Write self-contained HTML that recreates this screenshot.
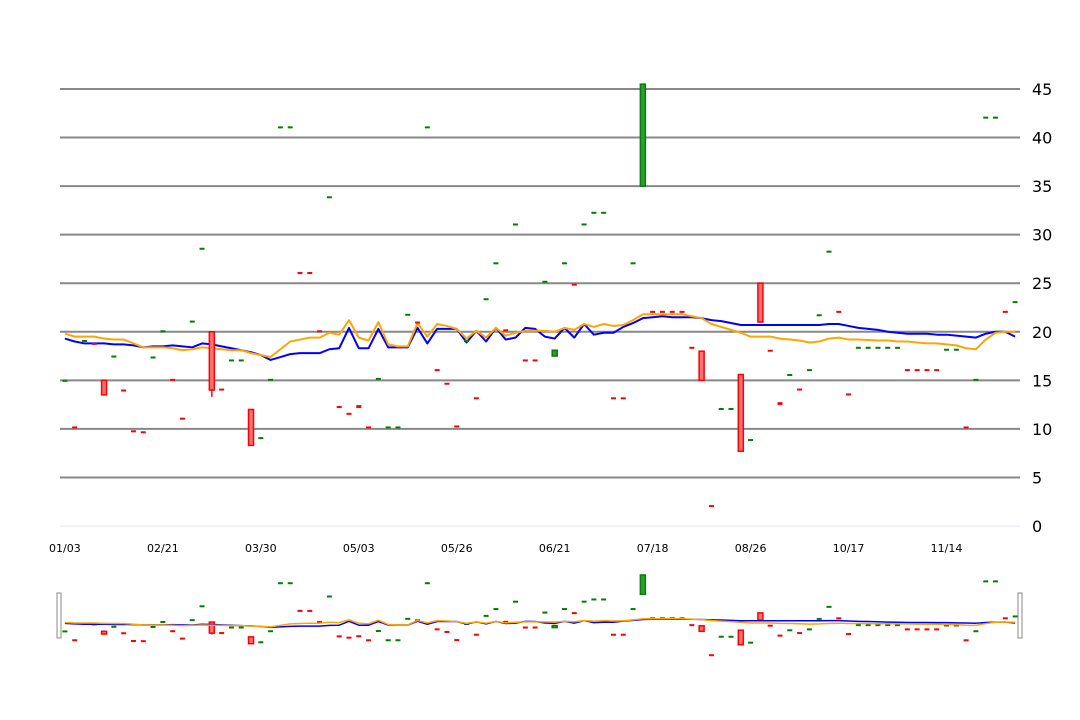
<!DOCTYPE html>
<html><head><meta charset="utf-8"><style>
html,body{margin:0;padding:0;background:#fff;width:1080px;height:720px;overflow:hidden}
svg text{font-family:"DejaVu Sans","Liberation Sans",sans-serif}
</style></head><body>
<svg id="chart" width="1080" height="720" xmlns="http://www.w3.org/2000/svg">
<g id="grid"></g>
<g id="yaxis"></g>
<g id="xaxis"></g>
<g id="lines"></g>
<g id="candles"></g>
<g id="nav"></g>
</svg>
<script>
const tickLabels = ["01/03","02/21","03/30","05/03","05/26","06/21","07/18","08/26","10/17","11/14"];
const tickEvery = 10;
const yTicks = [0,5,10,15,20,25,30,35,40,45];
const opens = [14.85,10.15,18.95,18.75,15,17.35,13.95,9.75,9.65,17.25,19.95,15.05,11.05,20.95,28.45,20,14.05,16.95,16.95,12,8.95,14.95,40.95,40.95,26.05,26.05,20.05,33.75,12.25,11.55,12.35,10.15,15.05,10.05,10.05,21.65,20.95,40.95,16.05,14.65,10.25,18.95,13.15,23.25,26.95,20.15,30.95,17.05,17.05,25.05,17.5,26.95,24.85,30.95,32.15,32.15,13.15,13.15,26.95,35,22.05,22.05,22.05,22.05,18.35,18,2.05,11.95,11.95,15.6,8.75,25,18.05,12.65,15.45,14.05,15.95,21.5,28.15,22.05,13.55,18.25,18.25,18.25,18.25,18.25,16.05,16.05,16.05,16.05,18.05,18.05,10.15,14.95,41.95,41.95,22.05,22.95];
const closes = [14.95,10.05,19.05,18.65,13.5,17.45,13.85,9.65,9.55,17.35,20.05,14.95,10.95,21.05,28.55,14,13.95,17.05,17.05,8.3,9.05,15.05,41.05,41.05,25.95,25.95,19.95,33.85,12.15,11.45,12.05,10.05,15.15,10.15,10.15,21.75,20.85,41.05,15.95,14.55,10.15,19.05,13.05,23.35,27.05,20.05,31.05,16.95,16.95,25.15,18.1,27.05,24.75,31.05,32.25,32.25,13.05,13.05,27.05,45.5,21.95,21.95,21.95,21.95,18.25,15,1.95,12.05,12.05,7.7,8.85,21,17.95,12.35,15.55,13.95,16.05,21.7,28.25,21.95,13.45,18.35,18.35,18.35,18.35,18.35,15.95,15.95,15.95,15.95,18.15,18.15,10.05,15.05,42.05,42.05,21.95,23.05];
const lowOverride = {15:13.3};
const blueLine = [19.3,19.0,18.8,18.8,18.8,18.7,18.7,18.6,18.4,18.5,18.5,18.6,18.5,18.4,18.8,18.7,18.5,18.3,18.1,17.9,17.6,17.1,17.4,17.7,17.8,17.8,17.8,18.2,18.3,20.4,18.3,18.3,20.3,18.4,18.4,18.4,20.4,18.8,20.3,20.3,20.3,18.9,20.1,19.0,20.4,19.2,19.4,20.4,20.3,19.5,19.3,20.4,19.4,20.8,19.7,19.9,19.9,20.5,20.9,21.4,21.5,21.6,21.5,21.5,21.5,21.4,21.2,21.1,20.9,20.7,20.7,20.7,20.7,20.7,20.7,20.7,20.7,20.7,20.8,20.8,20.6,20.4,20.3,20.2,20.0,19.9,19.8,19.8,19.8,19.7,19.7,19.6,19.5,19.4,19.8,20.0,20.0,19.5];
const orangeLine = [19.8,19.5,19.5,19.5,19.3,19.2,19.2,18.8,18.4,18.4,18.4,18.3,18.1,18.2,18.4,18.3,18.2,18.1,18.1,17.8,17.6,17.4,18.2,19.0,19.2,19.4,19.4,19.9,19.7,21.2,19.4,19.1,21.0,18.7,18.5,18.5,20.9,19.5,20.8,20.6,20.3,19.3,20.1,19.4,20.4,19.6,19.9,20.1,20.1,20.1,20.0,20.4,20.2,20.8,20.5,20.8,20.6,20.7,21.2,21.8,21.8,21.8,21.8,21.8,21.6,21.4,20.8,20.5,20.2,19.9,19.5,19.5,19.5,19.3,19.2,19.1,18.9,19.0,19.3,19.4,19.2,19.2,19.15,19.1,19.1,19.0,19.0,18.9,18.8,18.8,18.7,18.6,18.3,18.2,19.2,19.9,20.0,20.0];

const NS="http://www.w3.org/2000/svg";
const N = opens.length;
const x0=60, x1=1020, step=(x1-x0)/N;
const xS = i => x0 + (i+0.5)*step;
const yS = v => 526 - v*(437/45);
const ynS = v => 659 - v*1.846;
function mk(tag, attrs, parent){const e=document.createElementNS(NS,tag);for(const k in attrs)e.setAttribute(k,attrs[k]);parent.appendChild(e);return e;}
const grid=document.getElementById('grid'), yax=document.getElementById('yaxis'), xax=document.getElementById('xaxis');
yTicks.forEach(v=>{
  const l=mk('line',{x1:x0,x2:x1,y1:yS(v),y2:yS(v),stroke:v===0?'#e0e6f1':'#888','stroke-width':v===0?1:2},grid);
  
  
  const t=mk('text',{x:1032,y:yS(v)+6,'font-size':16,fill:'#000'},yax);
  t.textContent=v;
  
  
});
tickLabels.forEach((s,k)=>{
  const t=mk('text',{x:xS(k*tickEvery),y:552,'font-size':11,'text-anchor':'middle',fill:'#000'},xax);
  t.textContent=s;
  
  
});
function drawLine(arr,color,ys,parent,w,name){
  const p=mk('polyline',{points:arr.map((v,i)=>xS(i)+','+ys(v)).join(' '),fill:'none',stroke:color,'stroke-width':w,'stroke-linejoin':'round'},parent);
  
  
}
function drawCandles(parent,ys,scale,prefix){
  for(let i=0;i<N;i++){
    const o=opens[i],c=closes[i];
    const up=c>=o;
    const hi=Math.max(o,c), lo=Math.min(o,c);
    const yt=ys(hi), yb=ys(lo);
    const big=(hi-lo)>0.5;
    const cx=xS(i);
    if(lowOverride[i]!==undefined){
      const wk=mk('line',{x1:cx,x2:cx,y1:yb,y2:ys(lowOverride[i]),stroke:'#f00','stroke-width':1.5},parent);
      
      
    }
    let r;
    if(big){
      r=mk('rect',{x:cx-2.5,y:yt,width:5,height:Math.max(yb-yt,2),fill:up?'#2ca02c':'#ff7070',stroke:up?'#0a7a0a':'#f00','stroke-width':1.5},parent);
    } else {
      r=mk('rect',{x:cx-2.5,y:yt-1,width:5,height:Math.max(yb-yt,2)+(scale?0:0),fill:up?'#008000':'#f00'},parent);
    }
    
    
  }
}
const lines=document.getElementById('lines'), cg=document.getElementById('candles');
drawCandles(cg,yS,1,'');
drawLine(blueLine,'#0000ff',yS,lines,2,'blue-line');
drawLine(orangeLine,'#ffa500',yS,lines,2,'orange-line');
const nav=document.getElementById('nav');
drawCandles(nav,ynS,0,'nav-');
drawLine(blueLine,'#0000ff',ynS,nav,1.5,'nav-blue-line');
drawLine(orangeLine,'#ffa500',ynS,nav,1.5,'nav-orange-line');
[[57,593],[1018,593]].forEach(([hx,hy],k)=>{
  const h=mk('rect',{x:hx,y:hy,width:4,height:45,fill:'#fff',stroke:'#888','stroke-width':1},nav);
  
  
});
</script>
</body></html>
